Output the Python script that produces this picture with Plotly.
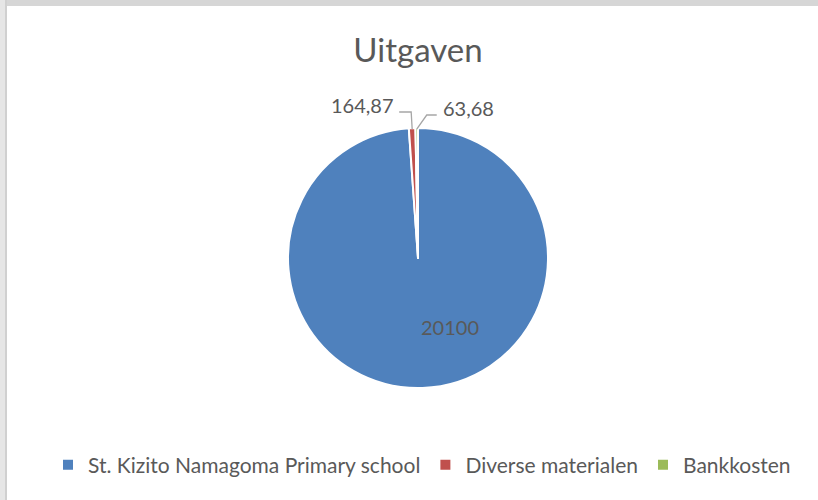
import math
import plotly.graph_objects as go

categories = ["St. Kizito Namagoma Primary school", "Diverse materialen", "Bankkosten"]
values = [20100, 164.87, 63.68]
colors = ["#4F81BD", "#C0504D", "#9BBB59"]

def fmt(v):
    return f"{v:g}".replace(".", ",")

labels_text = [fmt(v) for v in values]

W, H = 818, 500
CX, CY, R = 418, 258, 130          # pie centre / radius in pixels
FONT = "Lato, 'Open Sans', sans-serif"
TXT = "#595959"
LINE = "#A6A6A6"

def px(x):
    return x / W

def py(y):
    return 1 - y / H

fig = go.Figure(go.Pie(
    labels=categories,
    values=values,
    textinfo="none",
    sort=False,
    direction="clockwise",
    rotation=0,
    marker=dict(colors=colors, line=dict(color="white", width=2)),
    hoverinfo="label+value",
    domain=dict(x=[px(CX - R), px(CX + R)], y=[py(CY + R), py(CY - R)]),
    showlegend=True,
))

# slice mid-angles (clockwise from 12 o'clock) from the data
total = sum(values)
mids = []
cum = 0
for v in values:
    mids.append((cum + v / 2) / total * 2 * math.pi)
    cum += v

def edge(a, rr=R):
    return CX + rr * math.sin(a), CY - rr * math.cos(a)

annotations = []
shapes = []

# big slice label (inside)
annotations.append(dict(text=labels_text[0], x=px(450), y=py(327), xref="paper", yref="paper",
                        showarrow=False, xanchor="center", yanchor="middle",
                        font=dict(family=FONT, size=20, color=TXT)))

# small slice labels with leader lines
ex, ey = edge(mids[1], R - 1)
kx, ky = ex - 1, CY - R - 16
tx = kx - 12
shapes.append(dict(type="path", xref="paper", yref="paper",
                   path=f"M {px(ex)},{py(ey)} L {px(kx)},{py(ky)} L {px(tx)},{py(ky)}",
                   line=dict(color=LINE, width=1.3)))
annotations.append(dict(text=labels_text[1], x=px(tx - 3), y=py(ky - 7), xref="paper", yref="paper",
                        showarrow=False, xanchor="right", yanchor="middle",
                        font=dict(family=FONT, size=20, color=TXT)))

ex, ey = edge(mids[2], R - 1)
kx, ky = ex + 10, CY - R - 13
tx = kx + 10
shapes.append(dict(type="path", xref="paper", yref="paper",
                   path=f"M {px(ex)},{py(ey)} L {px(kx)},{py(ky)} L {px(tx)},{py(ky)}",
                   line=dict(color=LINE, width=1.3)))
annotations.append(dict(text=labels_text[2], x=px(tx + 4), y=py(ky - 7), xref="paper", yref="paper",
                        showarrow=False, xanchor="left", yanchor="middle",
                        font=dict(family=FONT, size=20, color=TXT)))

# window chrome strips
shapes += [
    dict(type="rect", xref="paper", yref="paper", x0=0, x1=1, y0=1 - 6 / H, y1=1,
         fillcolor="#D6D6D6", line=dict(width=0), layer="above"),
    dict(type="rect", xref="paper", yref="paper", x0=0, x1=5 / W, y0=0, y1=1,
         fillcolor="#E6E6E6", line=dict(width=0), layer="above"),
    dict(type="rect", xref="paper", yref="paper", x0=5 / W, x1=7 / W, y0=0, y1=1,
         fillcolor="#D0D0D0", line=dict(width=0), layer="above"),
]

fig.update_layout(
    width=W, height=H,
    margin=dict(l=0, r=0, t=0, b=0),
    paper_bgcolor="white",
    plot_bgcolor="white",
    font=dict(family=FONT, color=TXT),
    title=dict(text="Uitgaven", x=px(418), xanchor="center", y=py(50), yanchor="middle",
               font=dict(family=FONT, size=33, color=TXT)),
    legend=dict(orientation="h", x=px(422), xanchor="center", y=py(465), yanchor="middle",
                font=dict(family=FONT, size=21, color=TXT), itemwidth=30),
    shapes=shapes,
    annotations=annotations,
)

fig.write_html("out.html", config={"displayModeBar": False},
               post_script="document.body.style.margin='0';document.body.style.padding='0';")
